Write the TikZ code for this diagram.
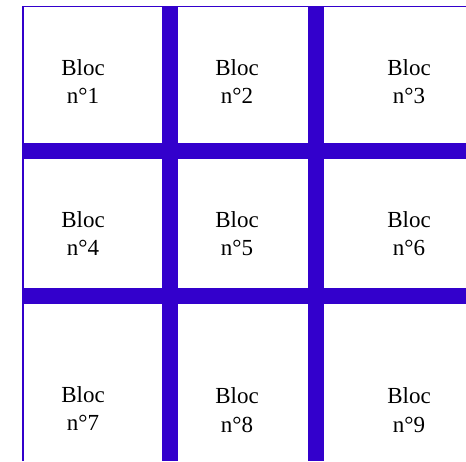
\documentclass[tikz,border=0pt]{standalone}
\usepackage{fontspec}
\setmainfont{Liberation Serif}
\definecolor{barblue}{HTML}{3300CC}
\begin{document}
\begin{tikzpicture}[x=1pt,y=-1pt,
  bar/.style={fill=barblue},
  edge/.style={draw=barblue,line width=1.3pt},
  bloclabel/.style={align=center,inner sep=0pt,font=\fontsize{23}{28.3}\selectfont}]
\useasboundingbox (0,0) rectangle (466,461);
% thin borders
\draw[edge] (23,461) -- (23,6.8) -- (466,6.8);
% thick vertical bars
\fill[bar] (162,6.8) rectangle (178,461);
\fill[bar] (308,6.8) rectangle (324,461);
% thick horizontal bars
\fill[bar] (23,143) rectangle (466,159);
\fill[bar] (23,288) rectangle (466,303.5);
% labels
\node[bloclabel] (b1) at (83,81.5) {Bloc\\n°1};
\node[bloclabel] (b2) at (237,81.5) {Bloc\\n°2};
\node[bloclabel] (b3) at (409,81.5) {Bloc\\n°3};
\node[bloclabel] (b4) at (83,233.5) {Bloc\\n°4};
\node[bloclabel] (b5) at (237,233.5) {Bloc\\n°5};
\node[bloclabel] (b6) at (409,233.5) {Bloc\\n°6};
\node[bloclabel] (b7) at (83,408.5) {Bloc\\n°7};
\node[bloclabel] (b8) at (237,410) {Bloc\\n°8};
\node[bloclabel] (b9) at (409,410) {Bloc\\n°9};
\end{tikzpicture}
\end{document}
